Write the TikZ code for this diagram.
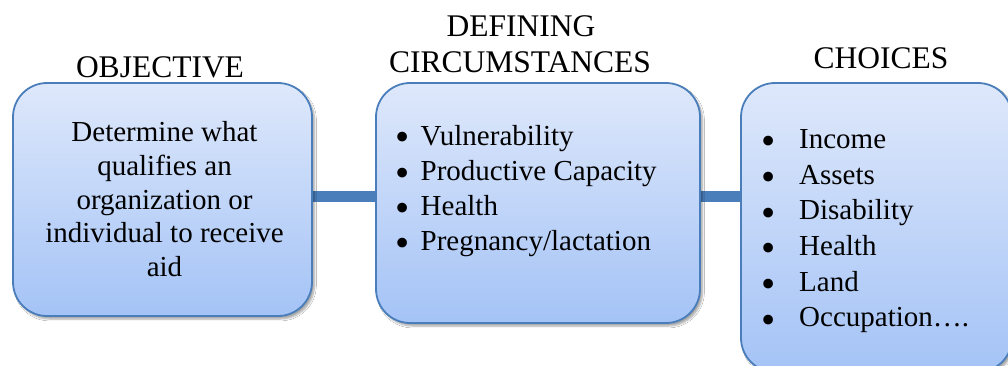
\documentclass[tikz,border=0pt]{standalone}
\usepackage{fontspec}
\setmainfont{Liberation Serif}
\usetikzlibrary{shadows.blur}
\definecolor{boxtop}{RGB}{222,232,251}
\definecolor{boxbot}{RGB}{164,195,246}
\definecolor{boxline}{RGB}{74,126,187}
\begin{document}
\begin{tikzpicture}[x=1pt,y=-1pt,
  box/.style={draw=boxline, line width=1.8pt, rounded corners=34pt,
    top color=boxtop, bottom color=boxbot, inner sep=0pt,
    blur shadow={shadow xshift=2.5pt, shadow yshift=-3pt, shadow blur steps=6, shadow opacity=35}},
  conn/.style={draw=boxline, line width=11.5pt},
  title/.style={font=\fontsize{31.5}{36}\selectfont, anchor=base, inner sep=0pt},
  body/.style={font=\fontsize{29}{34}\selectfont, inner sep=0pt},
  item/.style={body, anchor=base west},
  dot/.style={font=\fontsize{14}{16}\selectfont, inner sep=0pt, anchor=center}]
\clip (0,0) rectangle (1008,365);
\fill[white] (0,0) rectangle (1008,365);
% boxes (positions)
\path coordinate (objc) at (162.5,199.5)
      coordinate (circc) at (538,203)
      coordinate (choc) at (876.5,227.5);
% connectors drawn under boxes
\node[minimum width=299pt, minimum height=233pt, inner sep=0pt] (objg) at (objc) {};
\node[minimum width=324pt, minimum height=240pt, inner sep=0pt] (circg) at (circc) {};
\node[minimum width=271pt, minimum height=289pt, inner sep=0pt] (chog) at (choc) {};
\draw[conn] ([yshift=2.8pt]objg.east) -- ([yshift=2.8pt]objg.east -| circg.west);
\draw[conn] ([yshift=2.8pt]objg.east -| circg.east) -- ([yshift=2.8pt]objg.east -| chog.west);
\node[box, minimum width=299pt, minimum height=233pt] (obj) at (objc) {};
\node[box, minimum width=324pt, minimum height=240pt] (circ) at (circc) {};
\node[box, minimum width=271pt, minimum height=289pt] (cho) at (choc) {};
% titles
\node[title] (t1) at (160,77.3) {OBJECTIVE};
\node[title] (t2a) at (521,36.7) {DEFINING};
\node[title] (t2b) at (520,72.7) {CIRCUMSTANCES};
\node[title] (t3) at (881,68.3) {CHOICES};
% objective text
\foreach \t [count=\i] in {Determine what, qualifies an, organization or, individual to receive, aid}
  \node[body, anchor=base] (o\i) at (164.5,{141.7+33.75*(\i-1)}) {\t};
% circumstances list
\foreach \t [count=\i] in {Vulnerability, Productive Capacity, Health, Pregnancy/lactation} {
  \node[dot] (cb\i) at (403,{145-3.3+35.2*(\i-1)}) {\scalebox{2.9}{\textbullet}};
  \node[item] (ci\i) at (420.5,{145+35.2*(\i-1)}) {\t};
}
% choices list
\foreach \t [count=\i] in {Income, Assets, Disability, Health, Land, Occupation….} {
  \node[dot] (hb\i) at (769,{148.3-2.8+35.7*(\i-1)}) {\scalebox{2.9}{\textbullet}};
  \node[item] (hi\i) at (799,{148.3+35.7*(\i-1)}) {\t};
}
\end{tikzpicture}
\end{document}
